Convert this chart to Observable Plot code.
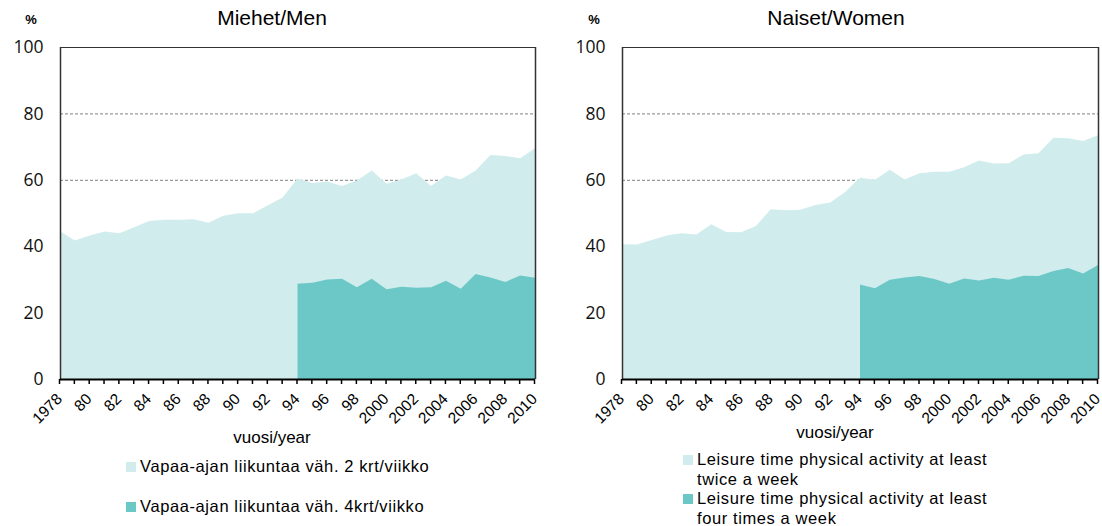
<!DOCTYPE html>
<html>
<head>
<meta charset="utf-8">
<script src="https://cdn.jsdelivr.net/npm/d3@7"></script>
<script src="https://cdn.jsdelivr.net/npm/@observablehq/plot@0.6"></script>
<style>
  body { margin: 0; background: #fff; font-family: "Liberation Sans", Arial, sans-serif; }
  #root { position: relative; width: 1102px; height: 526px; overflow: hidden; }
  .panel { position: absolute; top: 0; width: 551px; height: 526px; }
  .abs { position: absolute; white-space: nowrap; color: #000; }
  .title { font-size: 21px; transform: translateX(-50%); }
  .pct { font-size: 13px; font-weight: bold; transform: translateX(-50%); }
  .xlab { font-size: 17px; transform: translateX(-50%); }
  .leg { font-size: 16.5px; line-height: 19.5px; letter-spacing: 0.6px; }
  .sw { position: absolute; width: 10px; height: 10px; }
  svg { overflow: visible; }
</style>
</head>
<body>
<div id="root"></div>
<script>
// ---- data ----
const years = d3.range(1978, 2011);
const years4 = d3.range(1994, 2011);
const menTwice = [44.5, 41.7, 43.2, 44.4, 43.9, 45.7, 47.6, 48.0, 48.0, 48.1, 47.1, 49.2, 49.9, 49.9, 52.3, 54.7,
  60.4, 59.0, 59.5, 58.1, 59.8, 62.8, 58.8, 60.1, 62.0, 58.1, 61.3, 60.1, 62.8, 67.5, 67.2, 66.5, 69.5];
const menFour = [28.7, 29.0, 30.0, 30.2, 27.6, 30.2, 27.0, 27.8, 27.5, 27.6, 29.6, 27.2, 31.6, 30.6, 29.2, 31.2, 30.5];
const womenTwice = [40.6, 40.5, 41.9, 43.2, 43.9, 43.5, 46.6, 44.3, 44.2, 46.1, 51.1, 50.8, 51.0, 52.4, 53.2, 56.3,
  60.6, 60.0, 63.0, 60.1, 62.0, 62.4, 62.4, 63.8, 65.8, 64.9, 65.0, 67.6, 68.0, 72.7, 72.5, 71.7, 73.4];
const womenFour = [28.5, 27.3, 29.9, 30.6, 31.0, 30.1, 28.7, 30.3, 29.7, 30.5, 29.9, 31.1, 31.0, 32.5, 33.4, 31.8, 34.3];
const yTicks = [0, 20, 40, 60, 80, 100];
const gridValues = [60, 80];
const xTickLabels = ["1978", "80", "82", "84", "86", "88", "90", "92", "94", "96", "98",
  "2000", "2002", "2004", "2006", "2008", "2010"];
const titles = ["Miehet/Men", "Naiset/Women"];
const xAxisTitle = "vuosi/year";
const legendMen = ["Vapaa-ajan liikuntaa väh. 2 krt/viikko", "Vapaa-ajan liikuntaa väh. 4krt/viikko"];
const legendWomen = ["Leisure time physical activity at least twice a week", "Leisure time physical activity at least four times a week"];
const colors = ["#d0eced", "#6cc8c7"];

const labelMap = new Map(xTickLabels.map((l, i) => [1978 + 2 * i, l]));

function makeChart(twice, four, marginLeft, marginRight) {
  const dTwice = years.map((y, i) => ({year: y, value: twice[i]}));
  const dFour = years4.map((y, i) => ({year: y, value: four[i]}));
  return Plot.plot({
    width: 551,
    height: 526,
    marginTop: 47,
    marginBottom: 147,
    marginLeft,
    marginRight,
    style: {fontFamily: "Liberation Sans, Arial, sans-serif", background: "transparent", overflow: "visible"},
    x: {domain: [1978, 2010]},
    y: {domain: [0, 100]},
    marks: [
      Plot.gridY(gridValues, {stroke: "#808080", strokeOpacity: 1, strokeDasharray: "3,2", strokeWidth: 1}),
      Plot.areaY(dTwice, {x: "year", y: "value", fill: colors[0]}),
      Plot.areaY(dFour, {x: "year", y: "value", fill: colors[1]}),
      Plot.ruleY([100], {stroke: "#333", strokeWidth: 1}),
      Plot.ruleX([1978], {stroke: "#333", strokeWidth: 1.5}),
      Plot.ruleX([2010], {stroke: "#333", strokeWidth: 1.5}),
      Plot.ruleY([0], {stroke: "#000", strokeWidth: 2}),
      Plot.axisY({ticks: yTicks, tickSize: 0, tickPadding: 17, fontSize: 17.5, label: null,
        fontFamily: "Open Sans, sans-serif", fill: "#111"}),
      Plot.axisX({ticks: years, tickSize: 5, tickPadding: 12, fontSize: 15.5, label: null, dx: -1,
        tickRotate: -45, tickFormat: d => labelMap.get(d) ?? "", stroke: "#000", strokeWidth: 1.5})
    ]
  });
}

const root = document.getElementById("root");

function buildPanel(left, chart, title, titleX, pctX, xlabX, xlabY) {
  const p = document.createElement("div");
  p.className = "panel";
  p.style.left = left + "px";
  p.appendChild(chart);
  chart.style.position = "absolute";
  chart.style.left = "0px";
  chart.style.top = "0px";
  const t = document.createElement("div");
  t.className = "abs title"; t.textContent = title;
  t.style.left = titleX + "px"; t.style.top = "6px";
  p.appendChild(t);
  const pc = document.createElement("div");
  pc.className = "abs pct"; pc.textContent = "%";
  pc.style.left = pctX + "px"; pc.style.top = "12px";
  p.appendChild(pc);
  const xl = document.createElement("div");
  xl.className = "abs xlab"; xl.textContent = xAxisTitle;
  xl.style.left = xlabX + "px"; xl.style.top = xlabY + "px";
  p.appendChild(xl);
  root.appendChild(p);
  return p;
}

const men = buildPanel(0, makeChart(menTwice, menFour, 60, 16), titles[0], 272, 31, 272, 428);
const women = buildPanel(551, makeChart(womenTwice, womenFour, 71, 4), titles[1], 285, 43, 284, 423);

// legends
function legendItem(panel, x, y, text, color, width) {
  const sw = document.createElement("div");
  sw.className = "sw"; sw.style.background = color;
  sw.style.left = x + "px"; sw.style.top = (y + 5) + "px";
  panel.appendChild(sw);
  const tx = document.createElement("div");
  tx.className = "abs leg"; tx.textContent = text;
  tx.style.left = (x + 14) + "px"; tx.style.top = y + "px";
  if (width) { tx.style.whiteSpace = "normal"; tx.style.width = width + "px"; }
  panel.appendChild(tx);
}
legendItem(men, 126, 457, legendMen[0], colors[0]);
legendItem(men, 126, 497, legendMen[1], colors[1]);
legendItem(women, 132, 450, legendWomen[0], colors[0], 300);
legendItem(women, 132, 489, legendWomen[1], colors[1], 300);
</script>
</body>
</html>
